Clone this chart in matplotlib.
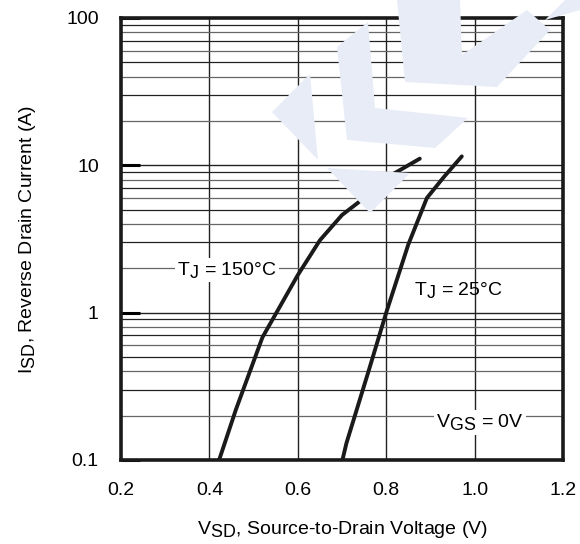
import matplotlib
matplotlib.use('Agg')
import matplotlib.pyplot as plt
import matplotlib._mathtext as mt
from matplotlib.patches import Polygon

plt.rcParams['font.family'] = ['Liberation Sans', 'DejaVu Sans']
plt.rcParams['mathtext.fontset'] = 'custom'
plt.rcParams['mathtext.rm'] = 'Liberation Sans'
plt.rcParams['mathtext.it'] = 'Liberation Sans'
mt.SHRINK_FACTOR = 0.92  # subindices casi del mismo tamaño, como en la hoja de datos

# curva a 150 C
v_150 = [0.422, 0.46, 0.52, 0.60, 0.65, 0.70, 0.75, 0.80, 0.876]
i_150 = [0.1, 0.22, 0.68, 1.8, 3.1, 4.6, 6.0, 8.2, 11.1]

# curva a 25 C
v_25 = [0.701, 0.71, 0.76, 0.80, 0.85, 0.892, 0.93, 0.971]
i_25 = [0.1, 0.13, 0.40, 1.0, 2.9, 6.0, 8.3, 11.5]

x_ticks = [0.2, 0.4, 0.6, 0.8, 1.0, 1.2]
x_labels = ['0.2', '0.4', '0.6', '0.8', '1.0', '1.2']
y_ticks = [0.1, 1, 10, 100]
y_labels = ['0.1', '1', '10', '100']

fig = plt.figure(figsize=(5.8, 5.44), dpi=100)

# marca de agua (forma aproximada, en pixeles)
azul = '#e7ecf7'
formas = [
    [(272, 112), (310, 74), (318, 160)],
    [(337, 47), (368, 22), (375, 108), (468, 118), (435, 148), (347, 140)],
    [(397, 0), (460, 0), (462, 55), (527, 10), (550, 30), (497, 87), (405, 82)],
    [(327, 168), (410, 173), (370, 213)],
    [(545, 20), (565, 0), (580, 0), (580, 10)],
]
for f in formas:
    pts = [(x / 580, 1 - y / 544) for x, y in f]
    fig.patches.append(Polygon(pts, closed=True, transform=fig.transFigure,
                               color=azul, lw=0, zorder=0))

ax = fig.add_axes([121 / 580, 84 / 544, 442 / 580, 442 / 544])
ax.set_facecolor('none')
ax.set_yscale('log')
ax.set_xlim(0.2, 1.2)
ax.set_ylim(0.1, 100)

# rejilla
for v in [0.4, 0.6, 0.8, 1.0]:
    ax.axvline(v, color='#222222', lw=1.0, zorder=1)
for d in [0.1, 1, 10]:
    for k in range(2, 10):
        ax.axhline(d * k, color='#666666' if k % 2 == 0 else '#222222',
                   lw=0.9, zorder=1)
for d in [1, 10]:
    ax.axhline(d, color='#222222', lw=1.0, zorder=1)

ax.plot(v_150, i_150, color='#1a1a1a', lw=2.8, solid_capstyle='round', zorder=3)
ax.plot(v_25, i_25, color='#1a1a1a', lw=2.8, solid_capstyle='round', zorder=3)

fs = 14
caja = dict(facecolor='white', edgecolor='none', pad=1.5)
ax.text(0.44, 1.94, r'$\mathregular{T_J}$ = 150°C', fontsize=fs,
        ha='center', va='center', bbox=caja, zorder=4)
ax.text(0.862, 1.42, r'$\mathregular{T_J}$ = 25°C', fontsize=fs,
        ha='left', va='center', zorder=4)
ax.text(1.012, 0.18, r'$\mathregular{V_{GS}}$ = 0V', fontsize=fs,
        ha='center', va='center', bbox=caja, zorder=4)

ax.set_xticks(x_ticks)
ax.set_xticklabels(x_labels)
ax.set_yticks(y_ticks)
ax.set_yticklabels(y_labels)
ax.minorticks_off()
ax.tick_params(axis='x', length=0, pad=16, labelsize=fs)
ax.tick_params(axis='y', direction='in', length=14, width=2.2,
               pad=16, labelsize=fs)

for s in ax.spines.values():
    s.set_linewidth(2.6)
    s.set_color('#1a1a1a')

ax.set_xlabel(r'$\mathregular{V_{SD}}$, Source-to-Drain Voltage (V)',
              fontsize=fs, labelpad=14)
ax.set_ylabel(r'$\mathregular{I_{SD}}$, Reverse Drain Current (A)',
              fontsize=fs, labelpad=20)

fig.savefig('out.png', dpi=100)
